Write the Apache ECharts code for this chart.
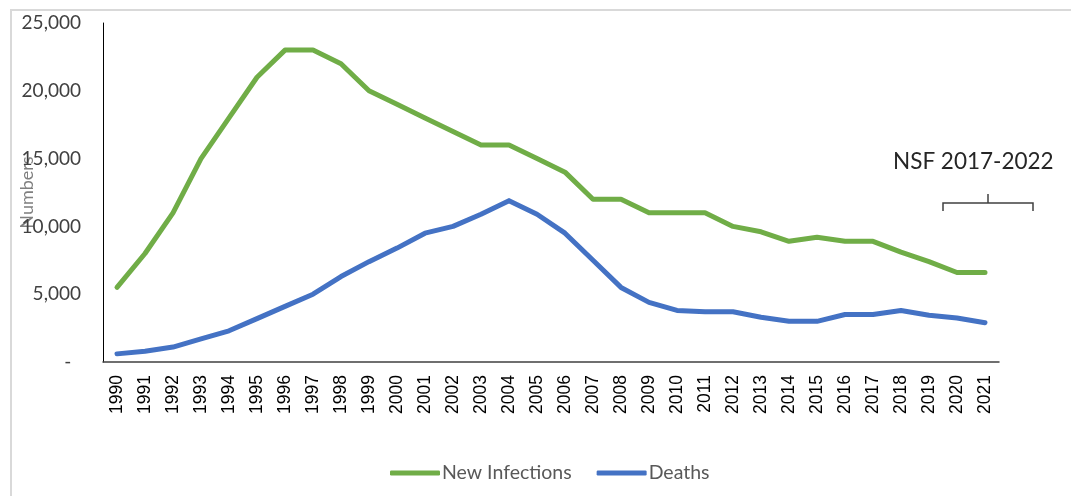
<!DOCTYPE html>
<html>
<head>
<meta charset="utf-8">
<script src="https://cdn.jsdelivr.net/npm/echarts@6/dist/echarts.min.js"></script>
<style>
  html, body { margin: 0; padding: 0; background: #fff; }
  #main { width: 1071px; height: 496px; }
</style>
</head>
<body>
<div id="main"></div>
<script>
var myChart = echarts.init(document.getElementById('main'));

var years = ['1990', '1991', '1992', '1993', '1994', '1995', '1996', '1997', '1998', '1999',
             '2000', '2001', '2002', '2003', '2004', '2005', '2006', '2007', '2008', '2009',
             '2010', '2011', '2012', '2013', '2014', '2015', '2016', '2017', '2018', '2019',
             '2020', '2021'];

var newInfections = [5500, 8000, 11000, 15000, 18000, 21000, 23000, 23000, 22000, 20000,
                     19000, 18000, 17000, 16000, 16000, 15000, 14000, 12000, 12000, 11000,
                     11000, 11000, 10000, 9600, 8900, 9200, 8900, 8900, 8100, 7400,
                     6600, 6600];

var deaths = [600, 800, 1100, 1700, 2300, 3200, 4100, 5000, 6300, 7400,
              8400, 9500, 10000, 10900, 11900, 10900, 9500, 7500, 5500, 4400,
              3800, 3700, 3700, 3300, 3000, 3000, 3500, 3500, 3800, 3450,
              3250, 2900];

var baseFont = 'Lato, "Open Sans", sans-serif';

option = {
    animation: false,
    backgroundColor: '#fff',
    grid: {
        left: 103,
        right: 72,
        top: 23,
        bottom: 134,
        outerBoundsMode: 'none'
    },
    legend: {
        left: 385,
        top: 458,
        icon: 'roundRect',
        itemWidth: 50,
        itemHeight: 5,
        itemGap: 25,
        textStyle: {
            fontFamily: baseFont,
            fontSize: 19.5,
            color: '#595959',
            padding: [0, 0, 0, -3]
        },
        data: ['New Infections', 'Deaths']
    },
    xAxis: {
        type: 'category',
        data: years,
        boundaryGap: true,
        axisLine: { lineStyle: { color: '#404040', width: 1.5 } },
        axisTick: { show: false },
        axisLabel: {
            rotate: 90,
            margin: 13,
            interval: 0,
            fontFamily: '"Liberation Sans", Arial, sans-serif',
            fontSize: 17.5,
            color: '#000'
        }
    },
    yAxis: {
        type: 'value',
        min: 0,
        max: 25000,
        interval: 5000,
        name: 'Numbers',
        nameLocation: 'middle',
        nameGap: 67,
        nameMoveOverlap: false,
        nameTextStyle: {
            fontFamily: baseFont,
            fontSize: 18,
            color: '#7f7f7f'
        },
        splitLine: { show: false },
        axisTick: { show: false },
        axisLine: { show: true, lineStyle: { color: '#000', width: 1 } },
        axisLabel: {
            margin: 22,
            fontFamily: baseFont,
            fontSize: 19,
            color: '#404040',
            formatter: function (v) {
                return v === 0 ? '-  ' : v.toLocaleString('en-US');
            }
        }
    },
    series: [
        {
            name: 'New Infections',
            type: 'line',
            data: newInfections,
            symbol: 'none',
            lineStyle: { color: '#70AD47', width: 5, cap: 'round', join: 'round' },
            itemStyle: { color: '#70AD47' },
            z: 3
        },
        {
            name: 'Deaths',
            type: 'line',
            data: deaths,
            symbol: 'none',
            lineStyle: { color: '#4472C4', width: 5, cap: 'round', join: 'round' },
            itemStyle: { color: '#4472C4' },
            z: 3
        }
    ],
    graphic: [
        // light frame of the chart area (top and left edges)
        {
            type: 'polyline',
            shape: { points: [[11, 496], [11, 10], [1071, 10]] },
            style: { stroke: '#d9d9d9', lineWidth: 2, fill: null },
            silent: true
        },
        // NSF annotation
        {
            type: 'text',
            left: 893,
            top: 150,
            style: {
                text: 'NSF 2017-2022',
                fontFamily: baseFont,
                fontSize: 22.5,
                fill: '#262626'
            }
        },
        {
            type: 'polyline',
            shape: { points: [[943, 211], [943, 203], [1033, 203], [1033, 211]] },
            style: { stroke: '#404040', lineWidth: 1.5, fill: null }
        },
        {
            type: 'line',
            shape: { x1: 988, y1: 194, x2: 988, y2: 203 },
            style: { stroke: '#404040', lineWidth: 1.5 }
        }
    ]
};

myChart.setOption(option);
</script>
</body>
</html>
